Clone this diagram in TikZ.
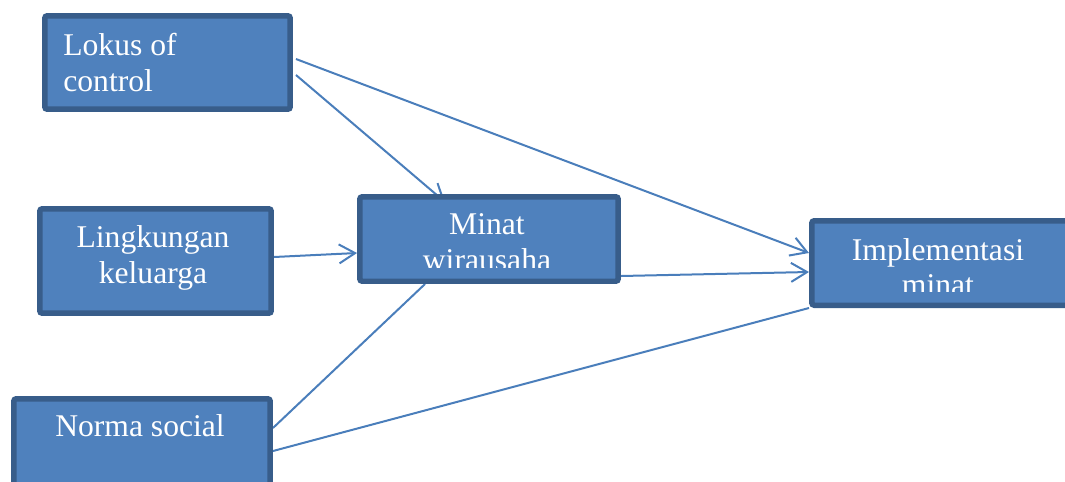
\documentclass[tikz,border=0pt]{standalone}
\usepackage{fontspec}
\setmainfont{Liberation Serif}
\usetikzlibrary{arrows.meta,backgrounds}
\definecolor{cellfill}{RGB}{79,129,189}
\definecolor{cellline}{RGB}{56,93,138}
\definecolor{linkblue}{RGB}{74,126,187}
\begin{document}
\begin{tikzpicture}[
	x=0.02cm, y=-0.02cm,
	cell/.style={
		rectangle,
		rounded corners=0.5mm,
		draw=cellline,
		fill=cellfill,
		line width=1.1mm,
		inner sep=0pt,
	},
	celltext/.style={
		text=white,
		font=\fontsize{18}{20.3}\selectfont,
		align=center,
		inner sep=0pt,
	},
	ArrowL/.style={% connectors with open tips
		draw=linkblue,
		line width=0.4mm,
		-{Straight Barb[length=3.2mm,width=3.8mm]},
	},
	LineL/.style={
		draw=linkblue,
		line width=0.4mm,
	},
]
	\useasboundingbox (0,0) rectangle (1065,481);

	% boxes
	\node [cell, minimum width=4.91cm, minimum height=1.87cm] (lokus) at (167.5,62.5) {};
	\node [cell, minimum width=4.63cm, minimum height=2.09cm] (lingk) at (155.5,261) {};
	\node [cell, minimum width=5.13cm, minimum height=1.99cm] (norma) at (142,448.5) {};
	\node [cell, minimum width=5.17cm, minimum height=1.69cm] (minat) at (489,239) {};
	\node [cell, minimum width=5.17cm, minimum height=1.69cm] (impl) at (941,263) {};

	% texts
	\node [celltext, anchor=west, align=left] (lokus-t) at (63,62.2) {Lokus of\\control};
	\node [celltext] (lingk-t) at (153,258) {Lingkungan\\keluarga};
	\node [celltext] (norma-t) at (140,426) {Norma social};
	\begin{scope}
		\clip (minat.north west) rectangle ([shift={(0,-16)}]minat.south east);
		\node [celltext] (minat-t) at (487,242.5) {Minat\\wirausaha};
	\end{scope}
	\begin{scope}
		\clip (impl.north west) rectangle ([shift={(0,-16)}]impl.south east);
		\node [celltext] (impl-t) at (938,267.2) {Implementasi\\minat};
	\end{scope}

	% connectors, behind the boxes
	\begin{pgfonlayer}{background}
		\draw [ArrowL] ([shift={(3,-3.5)}]lokus.east) -- ([shift={(0,-10)}]impl.west);
		\draw [ArrowL] ([shift={(3,12.5)}]lokus.east) -- ([shift={(88,8)}]minat.north west);
		\draw [ArrowL] ([shift={(0,-4)}]lingk.east) -- ([shift={(0,14)}]minat.west);
		\draw [ArrowL] ([shift={(0,37)}]minat.east) -- ([shift={(0,9)}]impl.west);
		\draw [LineL] ([shift={(0,-20.5)}]norma.east) -- ([shift={(68,0)}]minat.south west);
		\draw [LineL] ([shift={(0,2.5)}]norma.east) -- (impl.south west);
	\end{pgfonlayer}
\end{tikzpicture}
\end{document}
